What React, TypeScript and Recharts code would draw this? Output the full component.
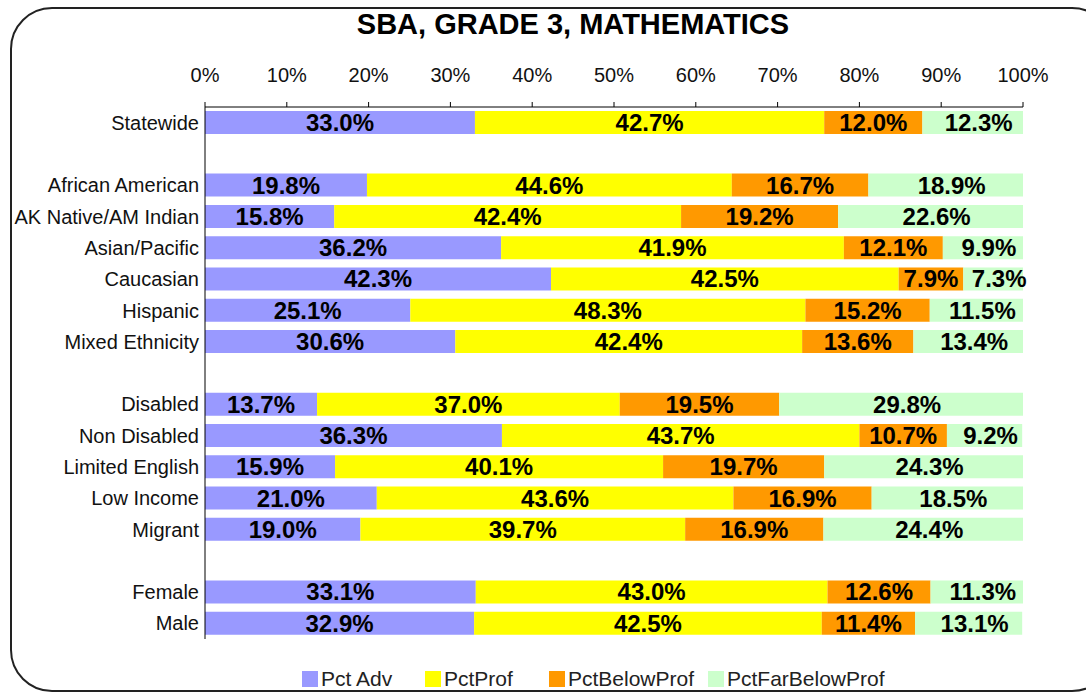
import { Bar, BarChart, LabelList, Legend, XAxis, YAxis } from "recharts";

const categories = [
  "Statewide",
  "",
  "African American",
  "AK Native/AM Indian",
  "Asian/Pacific",
  "Caucasian",
  "Hispanic",
  "Mixed Ethnicity",
  "",
  "Disabled",
  "Non Disabled",
  "Limited English",
  "Low Income",
  "Migrant",
  "",
  "Female",
  "Male",
];

const pctAdv = [33.0, null, 19.8, 15.8, 36.2, 42.3, 25.1, 30.6, null, 13.7, 36.3, 15.9, 21.0, 19.0, null, 33.1, 32.9];
const pctProf = [42.7, null, 44.6, 42.4, 41.9, 42.5, 48.3, 42.4, null, 37.0, 43.7, 40.1, 43.6, 39.7, null, 43.0, 42.5];
const pctBelowProf = [12.0, null, 16.7, 19.2, 12.1, 7.9, 15.2, 13.6, null, 19.5, 10.7, 19.7, 16.9, 16.9, null, 12.6, 11.4];
const pctFarBelowProf = [12.3, null, 18.9, 22.6, 9.9, 7.3, 11.5, 13.4, null, 29.8, 9.2, 24.3, 18.5, 24.4, null, 11.3, 13.1];

const xTicks = [0, 10, 20, 30, 40, 50, 60, 70, 80, 90, 100];

const series = [
  { key: "adv", name: "Pct Adv", values: pctAdv, color: "#9999FF" },
  { key: "prof", name: "PctProf", values: pctProf, color: "#FFFF00" },
  { key: "below", name: "PctBelowProf", values: pctBelowProf, color: "#FF9900" },
  { key: "farBelow", name: "PctFarBelowProf", values: pctFarBelowProf, color: "#CCFFCC" },
];

const data = categories.map((name, i) => {
  const row: Record<string, string | number | null> = { name };
  series.forEach((s) => {
    row[s.key] = s.values[i];
  });
  return row;
});

const FONT = "'Liberation Sans', Arial, sans-serif";
const legendWidths = [123, 124, 159, 200];

const fmt = (v: unknown) => (v == null || v === "" ? "" : `${Number(v).toFixed(1)}%`);

function LegendRow() {
  return (
    <div style={{ display: "flex", height: 24, alignItems: "center", paddingLeft: 302, fontFamily: FONT }}>
      {series.map((s, i) => (
        <div key={s.key} style={{ width: legendWidths[i], display: "flex", alignItems: "center" }}>
          <span style={{ width: 16, height: 16, background: s.color, display: "inline-block", marginRight: 3 }} />
          <span style={{ fontSize: 21, color: "#222", lineHeight: "24px" }}>{s.name}</span>
        </div>
      ))}
    </div>
  );
}

export default function App() {
  return (
    <div
      style={{
        position: "absolute",
        left: 0,
        top: 0,
        width: 1086,
        height: 696,
        overflow: "hidden",
        background: "#fff",
        fontFamily: FONT,
      }}
    >
      <div
        style={{
          position: "absolute",
          left: 10,
          top: 7,
          width: 1100,
          height: 681,
          border: "2px solid #222",
          borderRadius: 42,
        }}
      />
      <div
        style={{
          position: "absolute",
          left: 0,
          top: 10,
          width: 1146,
          textAlign: "center",
          fontSize: 29,
          lineHeight: "29px",
          fontWeight: "bold",
          color: "#000",
        }}
      >
        SBA, GRADE 3, MATHEMATICS
      </div>
      <div style={{ position: "absolute", left: 0, top: 0 }}>
        <BarChart
          width={1086}
          height={696}
          data={data}
          layout="vertical"
          margin={{ top: 0, right: 63, bottom: 33, left: 0 }}
        >
          <XAxis
            type="number"
            orientation="top"
            domain={[0, 100]}
            allowDataOverflow
            ticks={xTicks}
            tickFormatter={(v) => `${v}%`}
            height={107}
            tickSize={5}
            tickMargin={20}
            axisLine={{ stroke: "#000" }}
            tickLine={{ stroke: "#000" }}
            tick={{ fontSize: 20, fill: "#111", fontFamily: FONT }}
          />
          <YAxis
            type="category"
            dataKey="name"
            width={205}
            interval={0}
            tickLine={false}
            tickSize={0}
            tickMargin={6}
            axisLine={{ stroke: "#000" }}
            tick={{ fontSize: 20, fill: "#111", fontFamily: FONT }}
          />
          <Legend
            verticalAlign="bottom"
            content={() => <LegendRow />}
            wrapperStyle={{ top: 667, left: 0, width: 1086, height: 24 }}
          />
          {series.map((s, i) => (
            <Bar
              key={s.key}
              dataKey={s.key}
              name={s.name}
              stackId="a"
              fill={s.color}
              barSize={23}
              isAnimationActive={false}
            >
              <LabelList
                dataKey={s.key}
                position="center"
                formatter={fmt}
                dx={i === series.length - 1 ? 6 : 0}
                style={{ fontSize: 24, fontWeight: "bold", fill: "#000", fontFamily: FONT }}
              />
            </Bar>
          ))}
        </BarChart>
      </div>
    </div>
  );
}
